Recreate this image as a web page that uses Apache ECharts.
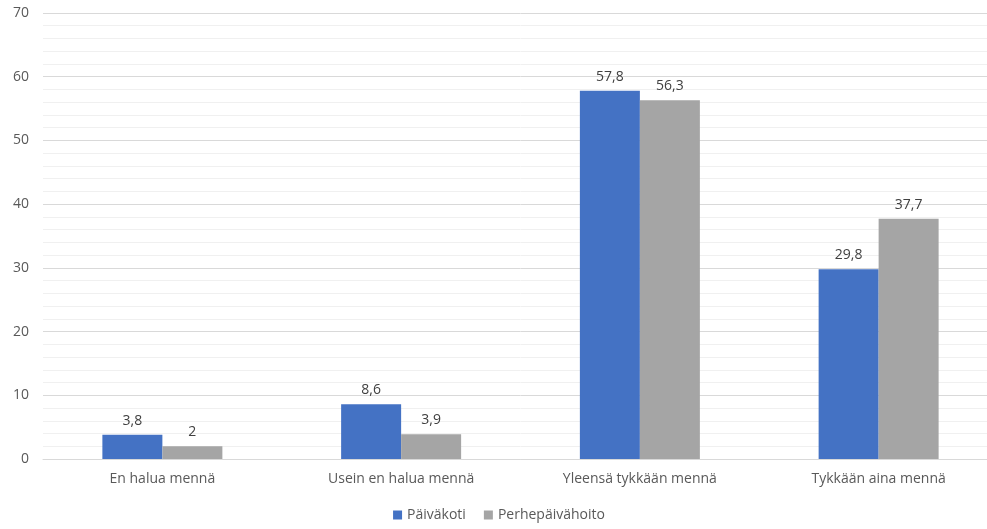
<!DOCTYPE html>
<html><head><meta charset="utf-8">
<script src="https://cdn.jsdelivr.net/npm/echarts@6/dist/echarts.min.js"></script>
<style>html,body{margin:0;padding:0;background:#fff;overflow:hidden}#c{width:998px;height:529px}</style>
</head><body><div id="c"></div>
<script>
const categories = ['En halua mennä', 'Usein en halua mennä', 'Yleensä tykkään mennä', 'Tykkään aina mennä'];
const paivakoti = [3.8, 8.6, 57.8, 29.8];
const perhepaivahoito = [2, 3.9, 56.3, 37.7];
const seriesNames = ['Päiväkoti', 'Perhepäivähoito'];

const font = 'Open Sans, Noto Sans, sans-serif';
const fmt = p => String(p.value).replace('.', ',');
const chart = echarts.init(document.getElementById('c'));
chart.setOption({
  animation: false,
  grid: {left: 43, top: 13, right: 0, bottom: 70, containLabel: false},
  legend: {
    bottom: 2, left: 'center', itemWidth: 9, itemHeight: 9, itemGap: 18, icon: 'rect',
    textStyle: {color: '#595959', fontSize: 14, fontFamily: font}
  },
  xAxis: {
    type: 'category', data: categories,
    axisLine: {lineStyle: {color: '#d9d9d9'}},
    axisTick: {show: false},
    axisLabel: {color: '#595959', fontSize: 14, fontFamily: font, margin: 13}
  },
  yAxis: {
    type: 'value', min: 0, max: 70, interval: 10,
    axisLine: {show: false}, axisTick: {show: false},
    axisLabel: {color: '#595959', fontSize: 14, fontFamily: font, margin: 14},
    splitLine: {lineStyle: {color: '#d9d9d9'}},
    minorTick: {show: false, splitNumber: 5},
    minorSplitLine: {show: true, lineStyle: {color: '#f0f0f0'}}
  },
  series: [
    {name: seriesNames[0], type: 'bar', data: paivakoti, barWidth: 60, barGap: '0%',
     itemStyle: {color: '#4472c4'},
     label: {show: true, position: 'top', distance: 7, color: '#404040', fontSize: 14, fontFamily: font, formatter: fmt}},
    {name: seriesNames[1], type: 'bar', data: perhepaivahoito, barWidth: 60, barGap: '0%',
     itemStyle: {color: '#a5a5a5'},
     label: {show: true, position: 'top', distance: 7, color: '#404040', fontSize: 14, fontFamily: font, formatter: fmt}}
  ]
});
</script></body></html>
